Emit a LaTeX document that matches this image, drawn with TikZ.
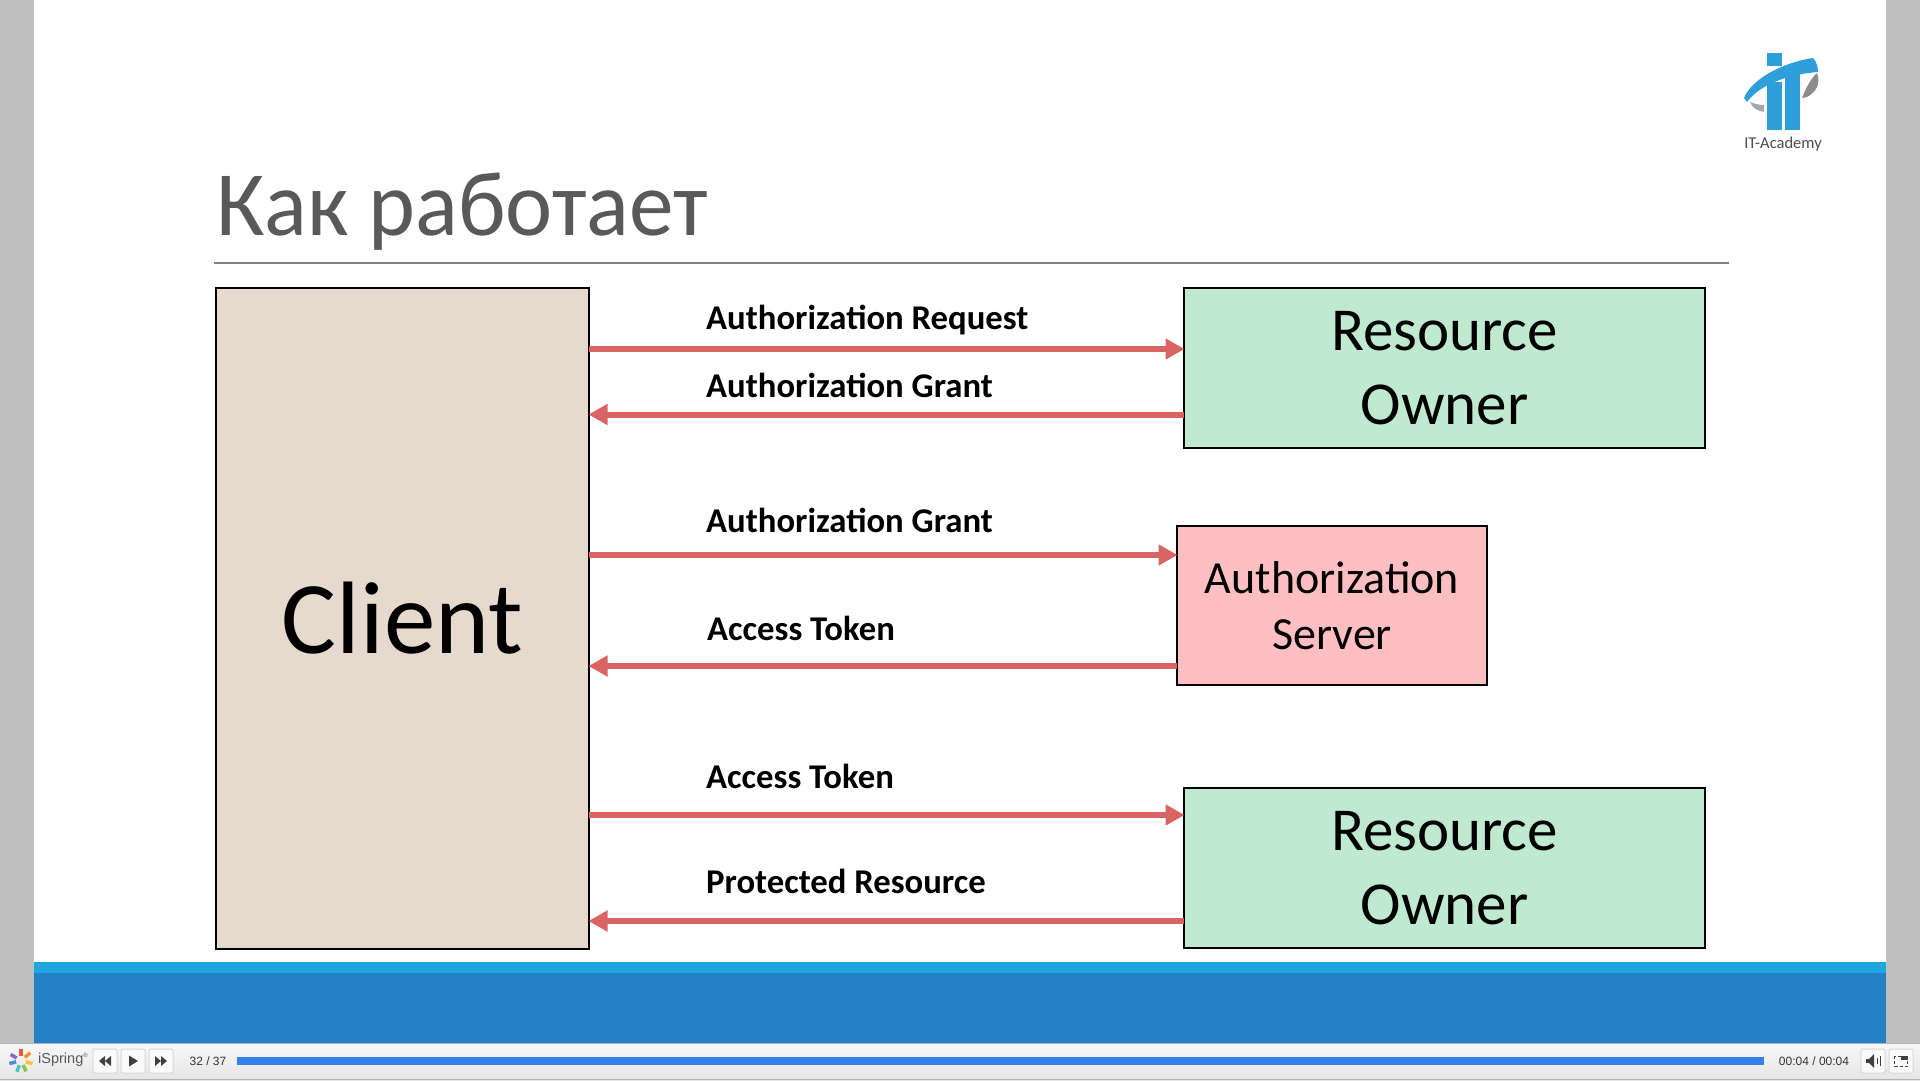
\documentclass[tikz,border=0pt]{standalone}
\usepackage{fontspec}
\setmainfont{Carlito}
\newfontfamily\uifont{Liberation Sans}
\usetikzlibrary{arrows.meta}
\definecolor{clientcol}{HTML}{E6DACE}
\definecolor{ownercol}{HTML}{BFEAD0}
\definecolor{servercol}{HTML}{FDBFC1}
\definecolor{arrowcol}{HTML}{D96464}
\definecolor{lightblue}{HTML}{1FA5E0}
\definecolor{darkblue}{HTML}{2580C6}
\definecolor{sidegray}{HTML}{BFBFBF}
\definecolor{barblue}{HTML}{3580E6}
\definecolor{logoblue}{HTML}{2F9FDC}
\tikzset{
  party/.style={draw=black,line width=2pt,anchor=north west,align=center,inner sep=0pt,outer sep=0pt},
  flow/.style={draw=arrowcol,line width=6pt,-{Triangle[length=19pt,width=20pt]},shorten >=-0.5pt},
  flowlabel/.style={anchor=base west,inner sep=0pt,font=\fontsize{34.7}{34.7}\selectfont\bfseries},
  uibutton/.style={draw=black!15,fill=black!2,rounded corners=2pt,minimum width=24pt,minimum height=24pt,inner sep=0pt,line width=1pt},
  uiicon/.style={fill=black!75},
  uitext/.style={inner sep=0pt,font=\uifont\fontsize{12}{12}\selectfont,text=black!80},
  petal/.style={line width=3.5pt}
}
\begin{document}
\begin{tikzpicture}[x=1pt,y=-1pt]
\useasboundingbox (0,0) rectangle (1920,1080);
\fill[white] (0,0) rectangle (1920,1080);
% slide background
\fill[sidegray] (0,0) rectangle (34,1043);
\fill[sidegray] (1886,0) rectangle (1920,1043);
\fill[lightblue] (34,962) rectangle (1886,973);
\fill[darkblue] (34,973) rectangle (1886,1043);
% title
\node[anchor=base west,inner sep=0pt,text=black!65,xscale=0.97,font=\fontsize{92}{92}\selectfont] (title) at (216,235) {Как работает};
\draw[black!50,line width=1.5pt] (214,263) -- (1729,263);
% parties
\node[party,fill=clientcol,minimum width=373pt,minimum height=661pt,font=\fontsize{103}{103}\selectfont] (client) at (216,288) {Client};
\node[party,fill=ownercol,minimum width=521pt,minimum height=160pt,font=\fontsize{61}{74}\selectfont] (ownera) at (1184,288) {Resource\\Owner};
\node[party,fill=servercol,minimum width=310pt,minimum height=159.5pt,font=\fontsize{46}{56}\selectfont] (server) at (1177,525.5) {Authorization\\Server};
\node[party,fill=ownercol,minimum width=521pt,minimum height=160pt,font=\fontsize{61}{74}\selectfont] (ownerb) at (1184,788) {Resource\\Owner};
% levels of the arrows
\coordinate (reqy) at (0,349);
\coordinate (granty) at (0,414.5);
\coordinate (sendy) at (0,555);
\coordinate (tokeny) at (0,666);
\coordinate (usey) at (0,815);
\coordinate (resy) at (0,921);
\draw[flow] (client.east |- reqy) -- (ownera.west |- reqy);
\draw[flow] (ownera.west |- granty) -- (client.east |- granty);
\draw[flow] (client.east |- sendy) -- (server.west |- sendy);
\draw[flow] (server.west |- tokeny) -- (client.east |- tokeny);
\draw[flow] (client.east |- usey) -- (ownerb.west |- usey);
\draw[flow] (ownerb.west |- resy) -- (client.east |- resy);
\node[flowlabel] (reqlabel) at (706,329) {Authorization Request};
\node[flowlabel] (grantlabel) at (706,397) {Authorization Grant};
\node[flowlabel] (sendlabel) at (706,532) {Authorization Grant};
\node[flowlabel] (tokenlabel) at (707,640) {Access Token};
\node[flowlabel] (uselabel) at (706,788) {Access Token};
\node[flowlabel] (reslabel) at (706,893) {Protected Resource};
% logo
\fill[logoblue] (1767,53) rectangle (1781.5,66);
\fill[logoblue] (1767,82) rectangle (1781.5,130);
\fill[logoblue] (1784.5,72) rectangle (1800,130);
\fill[logoblue] (1744,98) .. controls (1752,78) and (1785,62) .. (1813,58) .. controls (1817,62) and (1818,68) .. (1818,72) .. controls (1790,74) and (1760,84) .. (1747,102) -- cycle;
\fill[black!45] (1802,98) .. controls (1806,88) and (1811,78) .. (1817,73) .. controls (1821,84) and (1816,92) .. (1807,97) -- cycle;
\fill[black!35] (1750,102) .. controls (1755,104) and (1760,105) .. (1764,105) -- (1764,112) .. controls (1758,111) and (1752,108) .. (1750,102) -- cycle;
\node[inner sep=0pt,text=black!70,font=\fontsize{16.5}{16.5}\selectfont] (academy) at (1783,144) {IT-Academy};
% player bar
\shade[top color=black!3,bottom color=black!10] (0,1043) rectangle (1920,1080);
\draw[black!30,line width=1pt] (0,1043) -- (1920,1043);
\draw[black!30,line width=1pt] (0,1079.5) -- (1920,1079.5);
\foreach \ang/\hexcol in {90/E9573F,40/F0902F,-15/F5C33B,-65/8CC152,-110/4FC1C9,-165/4A89DC,150/8A6BBE}{
  \definecolor{petalcol}{HTML}{\hexcol}
  \draw[petal,draw=petalcol] ([shift={(\ang:5pt)}]21,1060.5) -- ([shift={(\ang:12pt)}]21,1060.5);
}
\node[anchor=west,inner sep=0pt,text=black!65,font=\uifont\fontsize{14.5}{14.5}\selectfont] (ispring) at (38,1060) {iSpring{\fontsize{6}{6}\selectfont\raisebox{6pt}{®}}};
\node[uibutton] (rewind) at (105,1061) {};
\node[uibutton] (play) at (133,1061) {};
\node[uibutton] (forward) at (161,1061) {};
\fill[uiicon] ([xshift=-6pt]rewind.center) -- ++(6,-5) -- ++(0,10) -- cycle;
\fill[uiicon] (rewind.center) -- ++(6,-5) -- ++(0,10) -- cycle;
\fill[uiicon] ([xshift=5pt]play.center) -- ++(-9,-5.5) -- ++(0,11) -- cycle;
\fill[uiicon] ([xshift=6pt]forward.center) -- ++(-6,-5) -- ++(0,10) -- cycle;
\fill[uiicon] (forward.center) -- ++(-6,-5) -- ++(0,10) -- cycle;
\node[uitext] (pageno) at (208,1061) {32 / 37};
\fill[barblue] (237,1057) rectangle (1764,1065);
\node[uitext] (clock) at (1814,1061) {00:04 / 00:04};
\node[uibutton] (sound) at (1873,1061) {};
\node[uibutton] (screen) at (1901,1061) {};
\fill[uiicon] ([xshift=-7pt,yshift=2pt]sound.center) rectangle ++(3,4);
\fill[uiicon] ([xshift=-4pt,yshift=2pt]sound.center) -- ++(5,-5) -- ++(0,14) -- ++(-5,-5) -- cycle;
\draw[black!75,line width=1pt] ([xshift=4pt,yshift=3pt]sound.center) -- ++(0,6);
\draw[black!75,line width=1pt] ([xshift=7pt,yshift=5pt]sound.center) -- ++(0,10);
\draw[black!75,line width=1pt,densely dashed] ([xshift=-6.5pt,yshift=5pt]screen.center) rectangle ++(13,10);
\fill[uiicon] ([yshift=5pt]screen.center) rectangle ++(6.5,4);
\end{tikzpicture}
\end{document}
